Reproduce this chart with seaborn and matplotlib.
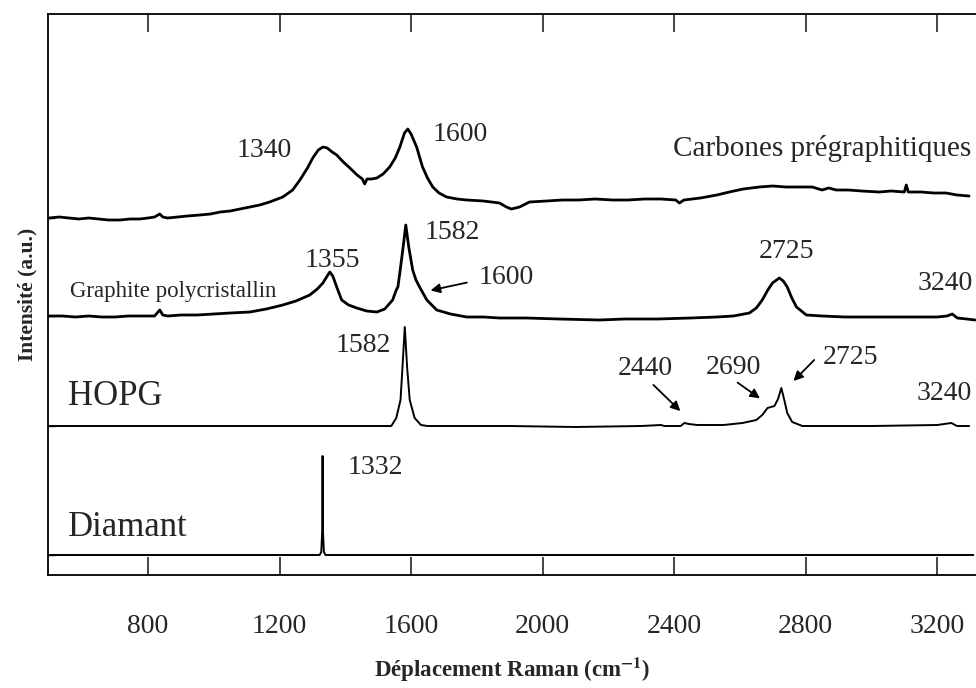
import matplotlib
matplotlib.use("Agg")
import matplotlib.pyplot as plt
import seaborn as sns
import pandas as pd

# Raman shift (cm-1) and intensity above each spectrum's own baseline (a.u.)
carb_w = [500, 530, 560, 590, 620, 650, 680, 715, 745, 775, 800, 820, 836, 845, 860, 890, 920, 958,
          990, 1020, 1050, 1080, 1110, 1140, 1170, 1210, 1240, 1262, 1285, 1301, 1318, 1332, 1345,
          1360, 1374, 1394, 1414, 1436, 1452, 1459, 1466, 1480, 1496, 1515, 1535, 1552, 1566, 1580,
          1590, 1600, 1617, 1625, 1635, 1650, 1666, 1685, 1708, 1740, 1769, 1820, 1869, 1890, 1905,
          1930, 1960, 2012, 2060, 2110, 2160, 2213, 2260, 2310, 2360, 2405, 2416, 2430, 2480, 2530,
          2568, 2610, 2659, 2700, 2740, 2780, 2820, 2850, 2870, 2893, 2930, 2970, 3024, 3060, 3100,
          3106, 3112, 3150, 3190, 3227, 3260, 3297]
carb_i = [0, 1, 0, -1, 0, -1, -2, -2, -1, -1, 0, 1, 4, 1, 0, 1, 2, 3,
          4, 6, 7, 9, 11, 13, 16, 21, 28, 38, 50, 60, 68, 71, 70,
          66, 63, 56, 50, 43, 39, 34, 39, 39, 40, 44, 51, 60, 71, 85,
          89, 84, 71, 62, 51, 40, 31, 25, 21, 19, 18, 17, 15, 11, 9,
          11, 16, 17, 18, 18, 19, 18, 18, 19, 19, 18, 15, 18, 20, 23,
          26, 29, 31, 32, 31, 31, 31, 28, 30, 28, 28, 27, 26, 27, 26,
          33, 26, 26, 25, 25, 23, 22]

graph_w = [500, 540, 580, 620, 660, 700, 740, 780, 820, 836, 845, 860, 900, 950, 1000, 1050, 1110,
           1160, 1210, 1250, 1292, 1315, 1332, 1345, 1353, 1362, 1374, 1389, 1410, 1435, 1465, 1496,
           1520, 1544, 1555, 1560, 1567, 1576, 1584, 1593, 1605, 1615, 1626, 1648, 1678, 1720, 1769,
           1820, 1869, 1950, 2050, 2173, 2250, 2350, 2450, 2530, 2580, 2629, 2650, 2668, 2685, 2699,
           2720, 2732, 2744, 2758, 2772, 2802, 2850, 2920, 2984, 3100, 3200, 3230, 3246, 3261, 3290,
           3315]
graph_i = [0, 0, -1, 0, -1, -1, 0, 0, 0, 6, 1, 0, 1, 1, 2, 3, 4,
           7, 11, 15, 21, 27, 33, 40, 44, 40, 29, 16, 11, 8, 5, 4,
           7, 16, 26, 29, 46, 69, 91, 69, 46, 36, 29, 16, 6, 2, -1,
           -1, -2, -2, -3, -4, -3, -3, -2, -1, 0, 3, 8, 16, 26, 33,
           38, 35, 29, 18, 9, 1, 0, -1, -1, -1, -1, 0, 2, -2, -3,
           -4]

hopg_w = [500, 700, 900, 1100, 1300, 1450, 1540, 1555, 1568, 1574, 1581, 1588, 1596, 1611, 1630,
          1650, 1900, 2100, 2300, 2360, 2370, 2420, 2431, 2445, 2470, 2550, 2608, 2650, 2668, 2684,
          2705, 2716, 2726, 2735, 2744, 2759, 2790, 3000, 3200, 3243, 3260, 3297]
hopg_i = [0, 0, 0, 0, 0, 0, 0, 8, 26, 59, 99, 59, 26, 8, 1,
          0, 0, -1, 0, 1, 0, 0, 3, 2, 1, 1, 3, 6, 11, 18,
          20, 27, 38, 26, 13, 4, 0, 0, 1, 3, 0, 0]

diam_w = [500, 1322, 1327, 1330, 1331, 1332, 1335, 1340, 3310]
diam_i = [0, 0, 3, 25, 99, 25, 3, 0, 0]

names = ["Carbones prégraphitiques", "Graphite polycristallin", "HOPG", "Diamant"]
offsets = [357, 259, 149, 20]
xticks = [800, 1200, 1600, 2000, 2400, 2800, 3200]

sns.set_style("ticks")
plt.rcParams["font.family"] = ["Liberation Serif", "DejaVu Serif"]
plt.rcParams["mathtext.fontset"] = "stix"

fig = plt.figure(figsize=(9.76, 6.88), dpi=100)
ax = fig.add_axes([48 / 976, 113 / 688, 928 / 976, 561 / 688])

spectra = [(carb_w, carb_i, 2.0), (graph_w, graph_i, 2.0), (hopg_w, hopg_i, 1.4), (diam_w, diam_i, 1.4)]
for (w, inten, lw), off in zip(spectra, offsets):
    df = pd.DataFrame({"w": w, "y": [v + off for v in inten]})
    sns.lineplot(data=df, x="w", y="y", ax=ax, color="black", lw=lw, estimator=None, sort=False)

ax.set_xlim(496, 3318)
ax.set_ylim(0, 561)
ax.set_xticks(xticks)
ax.set_xticklabels([str(t) for t in xticks], fontsize=20)
ax.set_yticks(offsets)
ax.set_yticklabels([])
ax.tick_params(axis="x", direction="in", length=13, width=1.2, top=True, pad=28)
ax.tick_params(axis="y", direction="in", length=5, width=1.0)
ax.spines["right"].set_visible(False)
for s in ["left", "top", "bottom"]:
    ax.spines[s].set_linewidth(1.3)
    ax.spines[s].set_color("black")

ax.set_xlabel("Déplacement Raman (cm$^{\\mathbf{-1}}$)", fontsize=16.5, fontweight="bold", labelpad=12)
ax.set_ylabel("Intensité (a.u.)", fontsize=15.5, fontweight="bold", labelpad=4)

# curve names
ax.text(3303, 427, names[0], fontsize=21, ha="right", va="center")
ax.text(563, 284, names[1], fontsize=16.5, ha="left", va="center")
ax.text(557, 179, names[2], fontsize=25, ha="left", va="center")
ax.text(557, 47, names[3], fontsize=25, ha="left", va="center")

# peak labels
peak_labels = [("1340", 1155, 425), ("1600", 1751, 441), ("1355", 1362, 315), ("1582", 1725, 343),
               ("1600", 1888, 298), ("2725", 2741, 324), ("3240", 3224, 292), ("1582", 1455, 230),
               ("2440", 2313, 207), ("2690", 2580, 208), ("2725", 2936, 218), ("3240", 3221, 182),
               ("1332", 1493, 107)]
for txt, x, y in peak_labels:
    ax.text(x, y, txt, fontsize=20, ha="center", va="center")

arrows = [((1778, 293), (1651, 284)), ((2331, 192), (2425, 162)),
          ((2586, 194), (2668, 175)), ((2832, 217), (2757, 192))]
for tail, head in arrows:
    ax.annotate("", xy=head, xytext=tail,
                arrowprops=dict(arrowstyle="-|>", color="black", lw=1.3, mutation_scale=14))

fig.savefig("out.png", dpi=100)
